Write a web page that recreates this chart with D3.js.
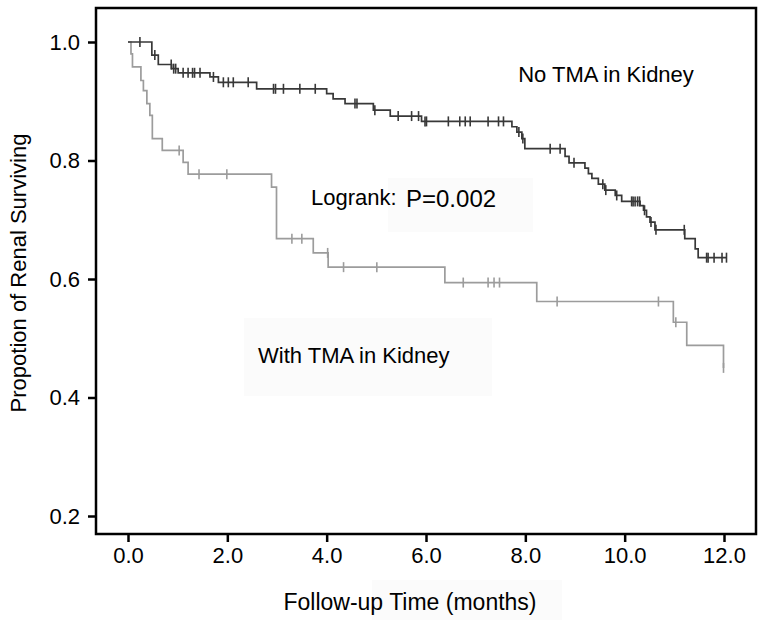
<!DOCTYPE html>
<html>
<head>
<meta charset="utf-8">
<script src="https://cdn.jsdelivr.net/npm/d3@7"></script>
<style>
  html, body { margin: 0; padding: 0; background: #fff; }
  svg { display: block; font-family: "Liberation Sans", Arial, sans-serif; }
</style>
</head>
<body>
<svg id="chart" width="766" height="620"></svg>
<script>
// ---- Data ----
const xTicks = [0, 2, 4, 6, 8, 10, 12];
const yTicks = [0.2, 0.4, 0.6, 0.8, 1.0];

// No TMA in Kidney (dark curve)
const noTmaTimes = [0, 0.48, 0.61, 0.88, 1.01, 1.65, 1.82, 2.59, 4.0, 4.13, 4.37, 4.94, 5.28, 5.91, 7.73, 7.83, 7.93, 7.99, 8.80, 8.88, 9.20, 9.27, 9.34, 9.47, 9.60, 9.81, 9.94, 10.31, 10.38, 10.44, 10.51, 10.61, 11.21, 11.42, 11.48];
const noTmaSurv  = [1.0, 0.978, 0.962, 0.955, 0.948, 0.941, 0.932, 0.921, 0.913, 0.904, 0.896, 0.885, 0.875, 0.866, 0.857, 0.848, 0.837, 0.820, 0.807, 0.796, 0.787, 0.778, 0.770, 0.760, 0.750, 0.741, 0.731, 0.724, 0.716, 0.705, 0.696, 0.683, 0.668, 0.651, 0.636];
const noTmaEnd = 12.05;
const noTmaCensored = [0.24, 0.54, 0.87, 0.92, 0.96, 1.11, 1.21, 1.30, 1.34, 1.45, 1.72, 1.92, 2.02, 2.12, 2.42, 2.93, 2.97, 3.13, 3.46, 3.77, 4.57, 4.61, 4.97, 5.44, 5.71, 5.85, 5.98, 6.01, 6.45, 6.68, 6.79, 6.89, 7.25, 7.46, 7.56, 7.87, 7.95, 8.50, 8.70, 8.98, 9.56, 9.62, 9.84, 10.14, 10.17, 10.21, 10.26, 10.30, 10.40, 10.53, 10.63, 11.20, 11.65, 11.68, 11.80, 11.96, 12.05];

// With TMA in Kidney (light curve)
const tmaTimes = [0, 0.06, 0.09, 0.26, 0.31, 0.38, 0.44, 0.49, 0.69, 1.11, 1.21, 2.89, 2.99, 3.73, 4.03, 6.38, 8.23, 10.98, 11.25, 11.99];
const tmaSurv  = [1.0, 0.980, 0.958, 0.935, 0.918, 0.896, 0.876, 0.837, 0.817, 0.797, 0.777, 0.755, 0.668, 0.644, 0.620, 0.594, 0.562, 0.527, 0.488, 0.450];
const tmaEnd = 11.99;
const tmaCensored = [1.03, 1.43, 1.99, 3.30, 3.50, 4.02, 4.34, 5.01, 6.75, 7.25, 7.37, 7.48, 8.64, 10.68, 11.03, 11.99];

const labels = {
  noTma: "No TMA in Kidney",
  tma: "With TMA in Kidney",
  logrank: "Logrank:",
  pval: "P=0.002",
  xTitle: "Follow-up Time (months)",
  yTitle: "Propotion of Renal Surviving"
};

// ---- Layout ----
const frame = { left: 96, top: 8, right: 756, bottom: 534 };
const svg = d3.select("#chart");

const x = d3.scaleLinear().domain([0, 12]).range([128, 724]);
const y = d3.scaleLinear().domain([0.2, 1.0]).range([516, 42]);

// very faint background boxes (as in the scanned reference)
const boxes = [
  [388, 178, 145, 54],
  [244, 318, 248, 78],
  [372, 580, 190, 40]
];
svg.selectAll("rect.bg").data(boxes).join("rect")
  .attr("class", "bg")
  .attr("x", d => d[0]).attr("y", d => d[1])
  .attr("width", d => d[2]).attr("height", d => d[3])
  .attr("fill", "#fbfbfb");

// axes
const yAxis = svg.append("g")
  .attr("transform", `translate(${frame.left},0)`)
  .call(d3.axisLeft(y).tickValues(yTicks).tickFormat(d3.format(".1f")).tickSize(8).tickPadding(8));
const xAxis = svg.append("g")
  .attr("transform", `translate(0,${frame.bottom})`)
  .call(d3.axisBottom(x).tickValues(xTicks).tickFormat(d3.format(".1f")).tickSize(8).tickPadding(5));
[yAxis, xAxis].forEach(g => {
  g.select(".domain").remove();
  g.selectAll(".tick line").attr("stroke", "#000").attr("stroke-width", 2.5);
  g.selectAll(".tick text").attr("fill", "#000").attr("font-size", 22)
    .attr("font-family", "'Liberation Sans', Arial, sans-serif");
});

// frame
svg.append("rect")
  .attr("x", frame.left).attr("y", frame.top)
  .attr("width", frame.right - frame.left).attr("height", frame.bottom - frame.top)
  .attr("fill", "none").attr("stroke", "#000").attr("stroke-width", 2.5);

// step curves
function drawKM(times, surv, end, censored, color) {
  const pts = times.map((t, i) => [t, surv[i]]);
  pts.push([end, surv[surv.length - 1]]);
  const line = d3.line().x(d => x(d[0])).y(d => y(d[1])).curve(d3.curveStepAfter);
  svg.append("path").datum(pts)
    .attr("d", line).attr("fill", "none")
    .attr("stroke", color).attr("stroke-width", 1.7);
  const survAt = t => {
    let v = surv[0];
    for (let i = 0; i < times.length; i++) if (times[i] <= t) v = surv[i];
    return v;
  };
  svg.selectAll(null).data(censored).join("line")
    .attr("x1", d => x(d)).attr("x2", d => x(d))
    .attr("y1", d => y(survAt(d)) - 5).attr("y2", d => y(survAt(d)) + 5)
    .attr("stroke", color).attr("stroke-width", 1.6);
}
drawKM(tmaTimes, tmaSurv, tmaEnd, tmaCensored, "#9c9c9c");
drawKM(noTmaTimes, noTmaSurv, noTmaEnd, noTmaCensored, "#383838");

// labels
const txt = (s, px, py, size, anchor) => svg.append("text")
  .attr("x", px).attr("y", py).attr("font-size", size)
  .attr("text-anchor", anchor || "start").attr("fill", "#000").text(s);
txt(labels.noTma, 606, 82, 22, "middle");
txt(labels.logrank, 311, 205, 22);
txt(labels.pval, 406, 207, 24);
txt(labels.tma, 258, 363, 22);
txt(labels.xTitle, 410, 610, 23, "middle");
svg.append("text")
  .attr("transform", "translate(26,273) rotate(-90)")
  .attr("text-anchor", "middle").attr("font-size", 22).attr("fill", "#000")
  .text(labels.yTitle);
</script>
</body>
</html>
